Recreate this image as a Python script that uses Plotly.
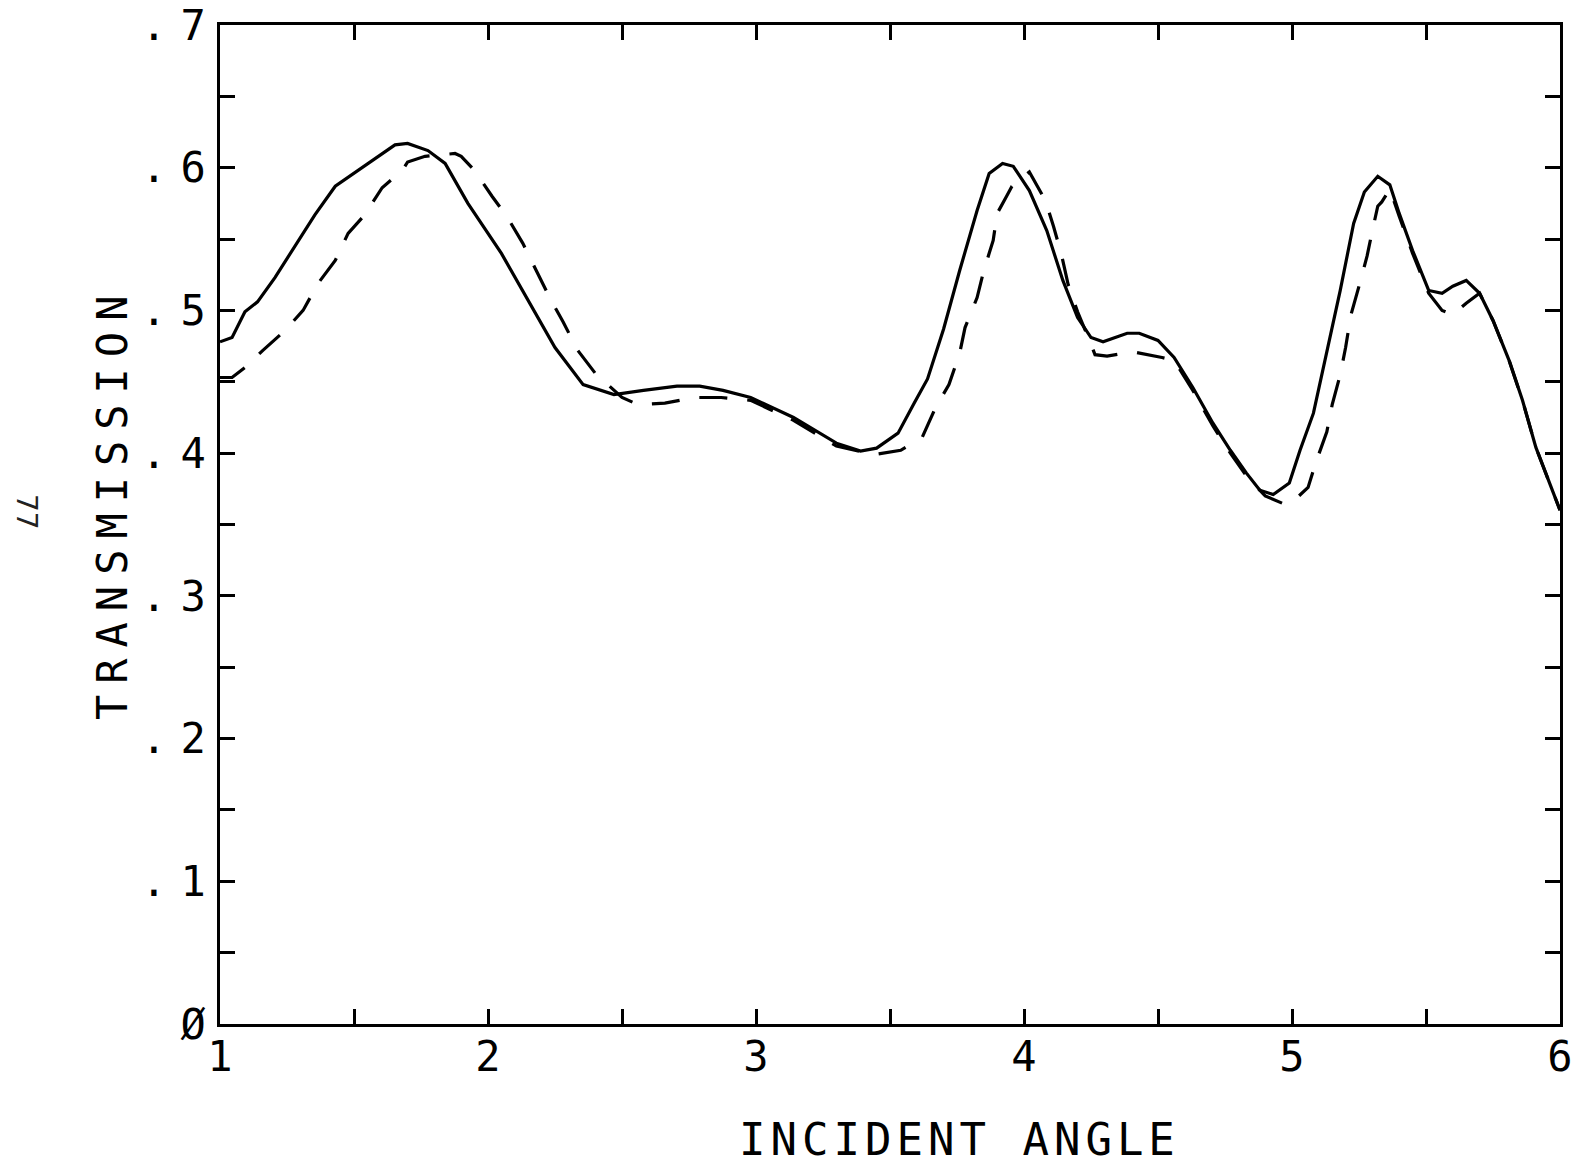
import plotly.graph_objects as go

# ---- data ----
solid_x = [1.0, 1.045, 1.093, 1.14, 1.205, 1.28, 1.354, 1.43, 1.515, 1.605, 1.653, 1.70, 1.776, 1.84,
           1.925, 2.05, 2.15, 2.25, 2.355, 2.47, 2.58, 2.705, 2.79, 2.877, 2.98, 3.14, 3.30, 3.39, 3.45,
           3.53, 3.59, 3.64, 3.70, 3.76, 3.825, 3.87, 3.92, 3.96, 4.02, 4.085, 4.145, 4.20, 4.25, 4.295,
           4.385, 4.43, 4.50, 4.56, 4.63, 4.705, 4.77, 4.83, 4.88, 4.93, 4.99, 5.03, 5.08, 5.13, 5.18,
           5.23, 5.27, 5.32, 5.365, 5.40, 5.45, 5.51, 5.56, 5.60, 5.65, 5.70, 5.75, 5.81, 5.86, 5.91,
           5.96, 6.0]
solid_y = [0.478, 0.481, 0.499, 0.506, 0.523, 0.545, 0.567, 0.587, 0.598, 0.610, 0.616, 0.617, 0.612, 0.603,
           0.575, 0.540, 0.507, 0.474, 0.448, 0.441, 0.444, 0.447, 0.447, 0.444, 0.439, 0.425, 0.407, 0.4015, 0.4035,
           0.414, 0.435, 0.452, 0.487, 0.528, 0.570, 0.596, 0.603, 0.601, 0.584, 0.556, 0.521, 0.495, 0.481, 0.478,
           0.484, 0.484, 0.479, 0.467, 0.446, 0.421, 0.402, 0.386, 0.374, 0.371, 0.379, 0.402, 0.428, 0.472, 0.514,
           0.561, 0.583, 0.594, 0.588, 0.568, 0.542, 0.514, 0.512, 0.517, 0.521, 0.512, 0.493, 0.465, 0.437, 0.404,
           0.379, 0.360]

dash_x = [1.0, 1.045, 1.093, 1.16, 1.243, 1.31, 1.366, 1.43, 1.478, 1.54, 1.605, 1.68, 1.70, 1.765, 1.877,
          1.90, 1.95, 2.015, 2.07, 2.13, 2.18, 2.23, 2.28, 2.335, 2.40, 2.50, 2.56, 2.66, 2.77, 2.87, 2.98,
          3.14, 3.30, 3.44, 3.54, 3.62, 3.67, 3.72, 3.76, 3.78, 3.825, 3.85, 3.885, 3.90, 3.935, 3.955, 4.02,
          4.08, 4.11, 4.14, 4.165, 4.20, 4.24, 4.265, 4.31, 4.405, 4.515, 4.56, 4.63, 4.705, 4.77, 4.83, 4.90,
          4.975, 5.02, 5.06, 5.09, 5.13, 5.15, 5.18, 5.20, 5.22, 5.25, 5.28, 5.30, 5.32, 5.335, 5.365, 5.40,
          5.45, 5.51, 5.56, 5.60, 5.65, 5.70, 5.75, 5.81, 5.86, 5.91, 5.96, 6.0]
dash_y = [0.453, 0.453, 0.460, 0.472, 0.486, 0.500, 0.519, 0.535, 0.554, 0.567, 0.586, 0.598, 0.604, 0.608, 0.610,
          0.608, 0.598, 0.580, 0.566, 0.547, 0.528, 0.509, 0.492, 0.472, 0.456, 0.439, 0.434, 0.435, 0.439, 0.439, 0.437,
          0.423, 0.405, 0.399, 0.402, 0.411, 0.432, 0.448, 0.470, 0.488, 0.509, 0.528, 0.549, 0.568, 0.580, 0.587, 0.597,
          0.577, 0.559, 0.539, 0.518, 0.499, 0.481, 0.469, 0.468, 0.471, 0.467, 0.465, 0.444, 0.419, 0.400, 0.384, 0.370,
          0.364, 0.369, 0.376, 0.394, 0.415, 0.434, 0.455, 0.474, 0.497, 0.517, 0.538, 0.556, 0.573, 0.576, 0.585, 0.566,
          0.540, 0.512, 0.500, 0.497, 0.505, 0.512, 0.493, 0.465, 0.437, 0.404, 0.379, 0.360]

x_tickvals = [1, 1.5, 2, 2.5, 3, 3.5, 4, 4.5, 5, 5.5, 6]
x_ticktext = ["1", "", "2", "", "3", "", "4", "", "5", "", "6"]
y_tickvals = [0, 0.05, 0.1, 0.15, 0.2, 0.25, 0.3, 0.35, 0.4, 0.45, 0.5, 0.55, 0.6, 0.65, 0.7]
y_ticktext = ["Ø", "", ".1", "", ".2", "", ".3", "", ".4", "", ".5", "", ".6", "", ".7"]

x_title = "INCIDENT ANGLE"
y_title = "TRANSMISSION"
page_note = "77"

FONT = "DejaVu Sans Mono"
SP = '<span style="letter-spacing:%dpx">%s</span>'


def ylabel(t):
    if not t:
        return ""
    if t.startswith("."):
        return SP % (14, ".") + t[1:]
    return t


fig = go.Figure()
fig.add_trace(go.Scatter(x=solid_x, y=solid_y, mode="lines",
                         line=dict(color="black", width=3.2), showlegend=False))
fig.add_trace(go.Scatter(x=dash_x, y=dash_y, mode="lines",
                         line=dict(color="black", width=3.2, dash="28px,20px"), showlegend=False))

axis_common = dict(showgrid=False, zeroline=False, showline=True, linecolor="black", linewidth=2.5,
                   mirror="ticks", ticks="inside", ticklen=15, tickwidth=2.5, tickcolor="black",
                   automargin=False, ticklabeloverflow="allow",
                   tickfont=dict(family=FONT, size=42, color="black"))

fig.update_xaxes(range=[1, 6], tickmode="array", tickvals=x_tickvals, ticktext=x_ticktext,
                 ticklabelstandoff=-6, **axis_common)
fig.update_yaxes(range=[0, 0.7], tickmode="array", tickvals=y_tickvals,
                 ticktext=[ylabel(t) for t in y_ticktext],
                 ticklabelstandoff=3, **axis_common)

# page body margin is removed by post_script, so figure pixels map directly to page pixels
W, H = 1585, 1167
L, R, T, B = 220, 25, 25, 143
pw, ph = W - L - R, H - T - B


def px_to_paper(px, py):
    return (px - L) / pw, (H - B - py) / ph


ax, ay = px_to_paper(959, H)
fig.add_annotation(text=SP % (5, x_title), x=ax, y=ay, xref="paper", yref="paper",
                   xanchor="center", yanchor="bottom",
                   showarrow=False, font=dict(family=FONT, size=44, color="black"))
ax, ay = px_to_paper(112, 503)
fig.add_annotation(text=SP % (11, y_title), x=ax, y=ay, xref="paper", yref="paper",
                   xanchor="center", yanchor="middle",
                   showarrow=False, textangle=-90, font=dict(family=FONT, size=42, color="black"))
ax, ay = px_to_paper(27, 512)
fig.add_annotation(text=page_note, x=ax, y=ay, xref="paper", yref="paper",
                   xanchor="center", yanchor="middle",
                   showarrow=False, textangle=90, font=dict(family="DejaVu Sans", size=28, color="#222"))

fig.update_layout(template="none", width=W, height=H, margin=dict(l=L, r=R, t=T, b=B, autoexpand=False),
                  paper_bgcolor="white", plot_bgcolor="white",
                  font=dict(family=FONT, color="black"))

fig.write_html("out.html", config={"displayModeBar": False},
               post_script="document.body.style.margin='0';document.body.style.overflow='hidden';")
